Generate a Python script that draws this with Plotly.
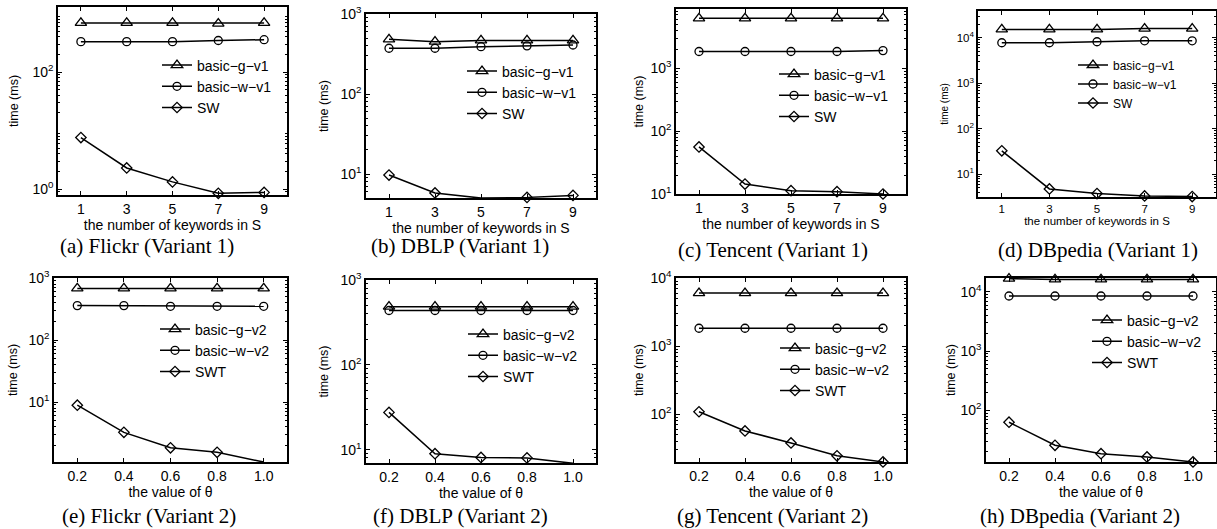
import plotly.graph_objects as go

W, H = 1217, 529

x_kw = [1, 3, 5, 7, 9]
x_kw_labels = ["1", "3", "5", "7", "9"]
x_theta = [0.2, 0.4, 0.6, 0.8, 1.0]
x_theta_labels = ["0.2", "0.4", "0.6", "0.8", "1.0"]

names_v1 = ["basic\u2212g\u2212v1", "basic\u2212w\u2212v1", "SW"]
names_v2 = ["basic\u2212g\u2212v2", "basic\u2212w\u2212v2", "SWT"]

# Variant 1 (time in ms)
flickr_g_v1 = [690, 690, 690, 670, 690]
flickr_w_v1 = [330, 330, 330, 345, 356]
flickr_sw = [7.6, 2.3, 1.33, 0.85, 0.88]

dblp_g_v1 = [483, 451, 468, 468, 468]
dblp_w_v1 = [373, 373, 390, 400, 410]
dblp_sw = [9.7, 5.8, 5.0, 5.1, 5.4]

tencent_g_v1 = [6200, 6200, 6200, 6200, 6200]
tencent_w_v1 = [1840, 1840, 1840, 1840, 1900]
tencent_sw = [56, 14.4, 11.3, 10.9, 10.0]

dbpedia_g_v1 = [15300, 15300, 15300, 16000, 16000]
dbpedia_w_v1 = [7800, 7800, 8200, 8600, 8600]
dbpedia_sw = [32.8, 4.75, 3.76, 3.33, 3.24]

# Variant 2 (time in ms)
flickr_g_v2 = [680, 680, 680, 680, 680]
flickr_w_v2 = [359, 359, 350, 350, 350]
flickr_swt = [8.9, 3.25, 1.83, 1.55, 1.08]

dblp_g_v2 = [485, 485, 485, 485, 485]
dblp_w_v2 = [437, 437, 437, 437, 437]
dblp_swt = [27.5, 8.97, 8.1, 8.0, 6.9]

tencent_g_v2 = [6000, 6000, 6000, 6000, 6000]
tencent_w_v2 = [1830, 1830, 1830, 1830, 1830]
tencent_swt = [109, 57, 38, 24.6, 20]

dbpedia_g_v2 = [16800, 16300, 16300, 16300, 16300]
dbpedia_w_v2 = [8550, 8550, 8550, 8550, 8550]
dbpedia_swt = [63, 25.7, 18.5, 16.3, 13.4]

y_exponents = [-1, 0, 1, 2, 3, 4, 5]
minor_mults = [2, 3, 4, 5, 6, 7, 8, 9]

captions = ["(a) Flickr (Variant 1)", "(b) DBLP (Variant 1)", "(c) Tencent (Variant 1)",
            "(d) DBpedia (Variant 1)", "(e) Flickr (Variant 2)", "(f) DBLP (Variant 2)",
            "(g) Tencent (Variant 2)", "(h) DBpedia (Variant 2)"]

panels = [
    dict(x=x_kw, xl=x_kw_labels, xr=[0, 10], ys=[flickr_g_v1, flickr_w_v1, flickr_sw], names=names_v1,
         yr=[-0.10, 3.11], dt=2, box=[58, 287, 7, 195], leg=[157, 49.5], fs=14, lfs=14, so=11,
         xt="the number of keywords in S", cap=[147, 246]),
    dict(x=x_kw, xl=x_kw_labels, xr=[0, 10], ys=[dblp_g_v1, dblp_w_v1, dblp_sw], names=names_v1,
         yr=[0.70, 3.0], dt=1, box=[366, 596, 14, 198], leg=[462, 55.5], fs=14, lfs=14, so=9,
         xt="the number of keywords in S", cap=[460, 246]),
    dict(x=x_kw, xl=x_kw_labels, xr=[0, 10], ys=[tencent_g_v1, tencent_w_v1, tencent_sw], names=names_v1,
         yr=[1.0, 3.94], dt=1, box=[676, 906, 9, 194], leg=[774, 58.5], fs=14, lfs=14, so=4,
         xt="the number of keywords in S", cap=[773, 250]),
    dict(x=x_kw, xl=x_kw_labels, xr=[0, 10], ys=[dbpedia_g_v1, dbpedia_w_v1, dbpedia_sw], names=names_v1,
         yr=[0.50, 4.59], dt=1, box=[978, 1216, 11, 197], leg=[1073, 50.5], fs=11.5, lfs=12, so=6,
         xt="the number of keywords in S", cap=[1098, 250]),
    dict(x=x_theta, xl=x_theta_labels, xr=[0.1, 1.1], ys=[flickr_g_v2, flickr_w_v2, flickr_swt], names=names_v2,
         yr=[0.034, 3.0], dt=1, box=[54, 287, 278, 462], leg=[155, 313.5], fs=14, lfs=14, so=8,
         xt="the value of \u03b8", cap=[149, 516]),
    dict(x=x_theta, xl=x_theta_labels, xr=[0.1, 1.1], ys=[dblp_g_v2, dblp_w_v2, dblp_swt], names=names_v2,
         yr=[0.843, 3.0], dt=1, box=[366, 596, 280, 463], leg=[463, 318.5], fs=14, lfs=14, so=9,
         xt="the value of \u03b8", cap=[460, 516]),
    dict(x=x_theta, xl=x_theta_labels, xr=[0.1, 1.1], ys=[tencent_g_v2, tencent_w_v2, tencent_swt], names=names_v2,
         yr=[1.30, 4.0], dt=1, box=[676, 906, 278, 462], leg=[775, 332.5], fs=14, lfs=14, so=4,
         xt="the value of \u03b8", cap=[772, 516]),
    dict(x=x_theta, xl=x_theta_labels, xr=[0.1, 1.1], ys=[dbpedia_g_v2, dbpedia_w_v2, dbpedia_swt], names=names_v2,
         yr=[1.127, 4.236], dt=1, box=[986, 1216, 278, 462], leg=[1087, 304.5], fs=14, lfs=14, so=2,
         xt="the value of \u03b8", cap=[1080, 516]),
]

symbols = ["triangle-up-open", "circle-open", "diamond-open"]
msizes = [10, 8, 8]

fig = go.Figure()
layout = dict(width=W, height=H, margin=dict(l=0, r=0, t=0, b=0, autoexpand=False),
              paper_bgcolor="white", plot_bgcolor="white",
              font=dict(family="Liberation Sans, Arial, sans-serif", color="black"))
annotations = []

for i, p in enumerate(panels):
    k = i + 1
    sfx = "" if k == 1 else str(k)
    lname = "legend" if k == 1 else f"legend{k}"
    for j in range(3):
        fig.add_trace(go.Scatter(
            x=p["x"], y=p["ys"][j], name=p["names"][j], mode="lines+markers",
            line=dict(color="black", width=1.5),
            marker=dict(symbol=symbols[j], size=msizes[j], color="black", line=dict(width=1.3, color="black")),
            xaxis="x" + sfx, yaxis="y" + sfx, legend=lname, cliponaxis=False, showlegend=True))
    x0, x1, y0, y1 = p["box"]
    lo, hi = p["yr"]
    exps = [e for e in y_exponents if lo - 1e-9 <= e <= hi + 1e-9 and e % p["dt"] == 0]
    minors = [m * 10 ** e for e in y_exponents for m in minor_mults]
    layout["xaxis" + sfx] = dict(
        domain=[x0 / W, x1 / W], anchor="y" + sfx, range=p["xr"], automargin=False,
        tickvals=p["x"], ticktext=p["xl"], ticks="inside", ticklen=4, tickcolor="black",
        showline=True, linecolor="black", linewidth=1.5, mirror="ticks", showgrid=False, zeroline=False,
        tickfont=dict(size=p["fs"]), title=dict(text=p["xt"], font=dict(size=p["fs"]), standoff=2))
    layout["yaxis" + sfx] = dict(
        domain=[1 - y1 / H, 1 - y0 / H], anchor="x" + sfx, type="log", range=p["yr"], automargin=False,
        tickvals=[10 ** e for e in exps], ticktext=[f"10<sup>{e}</sup>" for e in exps],
        ticks="inside", ticklen=4, tickcolor="black",
        minor=dict(tickmode="array", tickvals=minors, ticks="inside", ticklen=2,
                   tickcolor="black", showgrid=False),
        showline=True, linecolor="black", linewidth=1.5, mirror="ticks", showgrid=False, zeroline=False,
        tickfont=dict(size=p["fs"]), title=dict(text="time (ms)", font=dict(size=p["fs"] - 1.5), standoff=p["so"]))
    lx, ly = p["leg"]
    layout[lname] = dict(x=lx / W, y=1 - ly / H, xanchor="left", yanchor="top",
                         bgcolor="rgba(255,255,255,0)", borderwidth=0,
                         font=dict(size=p["lfs"]), tracegroupgap=0, itemwidth=30)
    annotations.append(dict(text=captions[i], x=p["cap"][0] / W, y=1 - p["cap"][1] / H,
                            xref="paper", yref="paper", showarrow=False, xanchor="center", yanchor="middle",
                            font=dict(family="Liberation Serif, Times New Roman, serif", size=21, color="black")))

layout["annotations"] = annotations
fig.update_layout(**layout)
fig.write_html("out.html")
